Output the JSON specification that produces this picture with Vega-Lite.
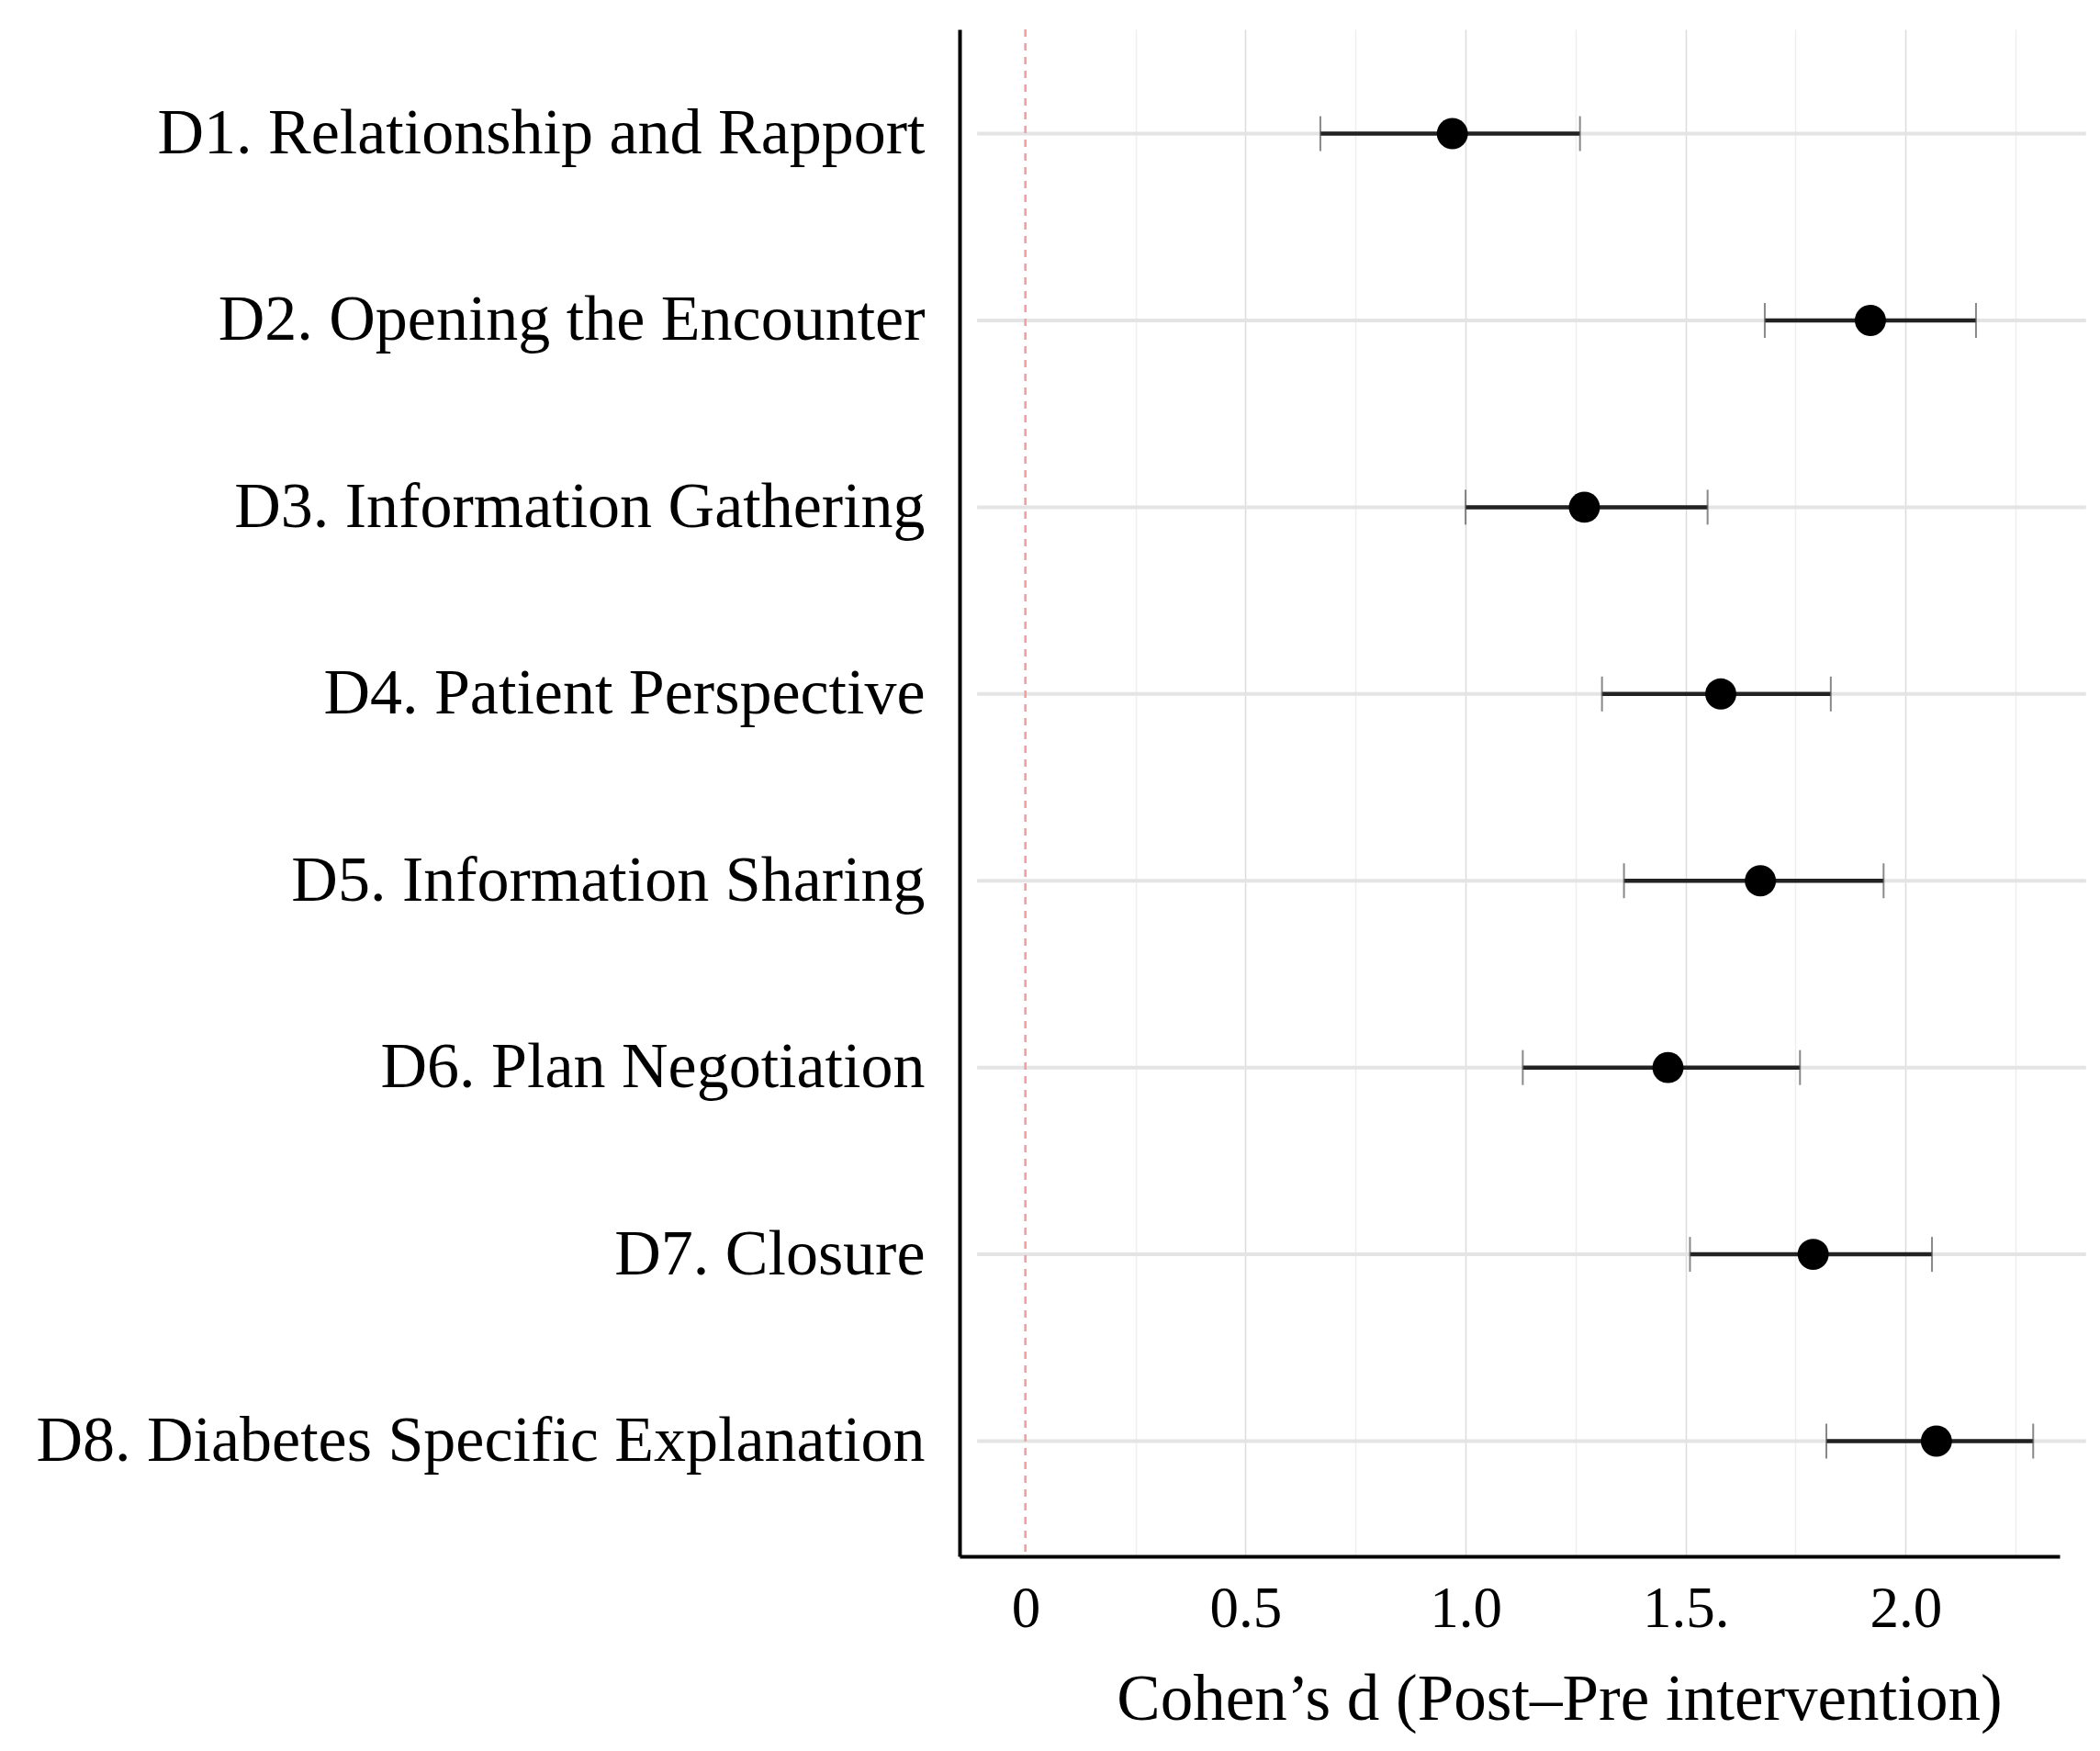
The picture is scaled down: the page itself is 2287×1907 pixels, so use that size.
{
  "$schema": "https://vega.github.io/schema/vega-lite/v6.json",
  "autosize": {"type": "none"},
  "padding": {"left": 1045, "top": 32, "right": 44, "bottom": 212},
  "width": 1198,
  "height": 1663,
  "background": "white",
  "config": {"view": {"stroke": null}},
  "data": {
    "values": [
      {"domain": "D1. Relationship and Rapport", "d": 0.97, "lo": 0.67, "hi": 1.26},
      {"domain": "D2. Opening the Encounter", "d": 1.92, "lo": 1.68, "hi": 2.16},
      {"domain": "D3. Information Gathering", "d": 1.27, "lo": 1.0, "hi": 1.55},
      {"domain": "D4. Patient Perspective", "d": 1.58, "lo": 1.31, "hi": 1.83},
      {"domain": "D5. Information Sharing", "d": 1.67, "lo": 1.36, "hi": 1.95},
      {"domain": "D6. Plan Negotiation", "d": 1.46, "lo": 1.13, "hi": 1.76},
      {"domain": "D7. Closure", "d": 1.79, "lo": 1.51, "hi": 2.06},
      {"domain": "D8. Diabetes Specific Explanation", "d": 2.07, "lo": 1.82, "hi": 2.29}
    ]
  },
  "encoding": {
    "y": {
      "field": "domain",
      "type": "nominal",
      "sort": null,
      "scale": {"type": "point", "padding": 0.5875, "align": 0.475},
      "axis": {
        "title": null,
        "ticks": false,
        "grid": false,
        "domainColor": "black",
        "domainWidth": 4,
        "labelFont": "Liberation Serif",
        "labelFontSize": 70,
        "labelColor": "black",
        "labelPadding": 38,
        "labelLimit": 2000
      }
    }
  },
  "layer": [
    {
      "mark": {"type": "rule", "color": "#e4e4e4", "strokeWidth": 4, "clip": false},
      "encoding": {
        "x": {
          "datum": -0.11,
          "type": "quantitative",
          "scale": {"domain": [-0.15, 2.35], "nice": false, "zero": false},
          "axis": {
            "values": [0, 0.25, 0.5, 0.75, 1, 1.25, 1.5, 1.75, 2, 2.25],
            "labelExpr": "datum.value == 0 ? '0' : datum.value == 1.5 ? '1.5.' : (datum.value * 4) % 2 == 0 ? format(datum.value, '.1f') : ''",
            "ticks": false,
            "grid": true,
            "gridColor": {"condition": {"test": "datum.value == 0", "value": "transparent"}, "value": "#dcdcdc"},
            "gridOpacity": {"condition": {"test": "(datum.value * 4) % 2 == 1", "value": 0.45}, "value": 1},
            "gridWidth": 1.5,
            "domainColor": "black",
            "domainWidth": 4,
            "labelFont": "Liberation Serif",
            "labelFontSize": 63,
            "labelColor": "black",
            "labelPadding": 26,
            "title": "Cohen’s d (Post–Pre intervention)",
            "titleFont": "Liberation Serif",
            "titleFontSize": 71,
            "titleFontWeight": "normal",
            "titleColor": "black",
            "titlePadding": 32,
            "titleX": 653
          }
        },
        "x2": {"datum": 2.41}
      }
    },
    {
      "mark": {"type": "rule", "color": "#f4a0a0", "strokeWidth": 2, "strokeDash": [8, 7]},
      "encoding": {"x": {"datum": 0, "type": "quantitative"}, "y": null}
    },
    {
      "mark": {"type": "rule", "color": "#222222", "strokeWidth": 4.5},
      "encoding": {"x": {"field": "lo", "type": "quantitative"}, "x2": {"field": "hi"}}
    },
    {
      "mark": {"type": "tick", "color": "#555555", "thickness": 2, "size": 38, "orient": "vertical"},
      "encoding": {"x": {"field": "lo", "type": "quantitative"}}
    },
    {
      "mark": {"type": "tick", "color": "#555555", "thickness": 2, "size": 38, "orient": "vertical"},
      "encoding": {"x": {"field": "hi", "type": "quantitative"}}
    },
    {
      "mark": {"type": "point", "shape": "circle", "filled": true, "color": "black", "size": 1150, "opacity": 1},
      "encoding": {"x": {"field": "d", "type": "quantitative"}}
    }
  ]
}
